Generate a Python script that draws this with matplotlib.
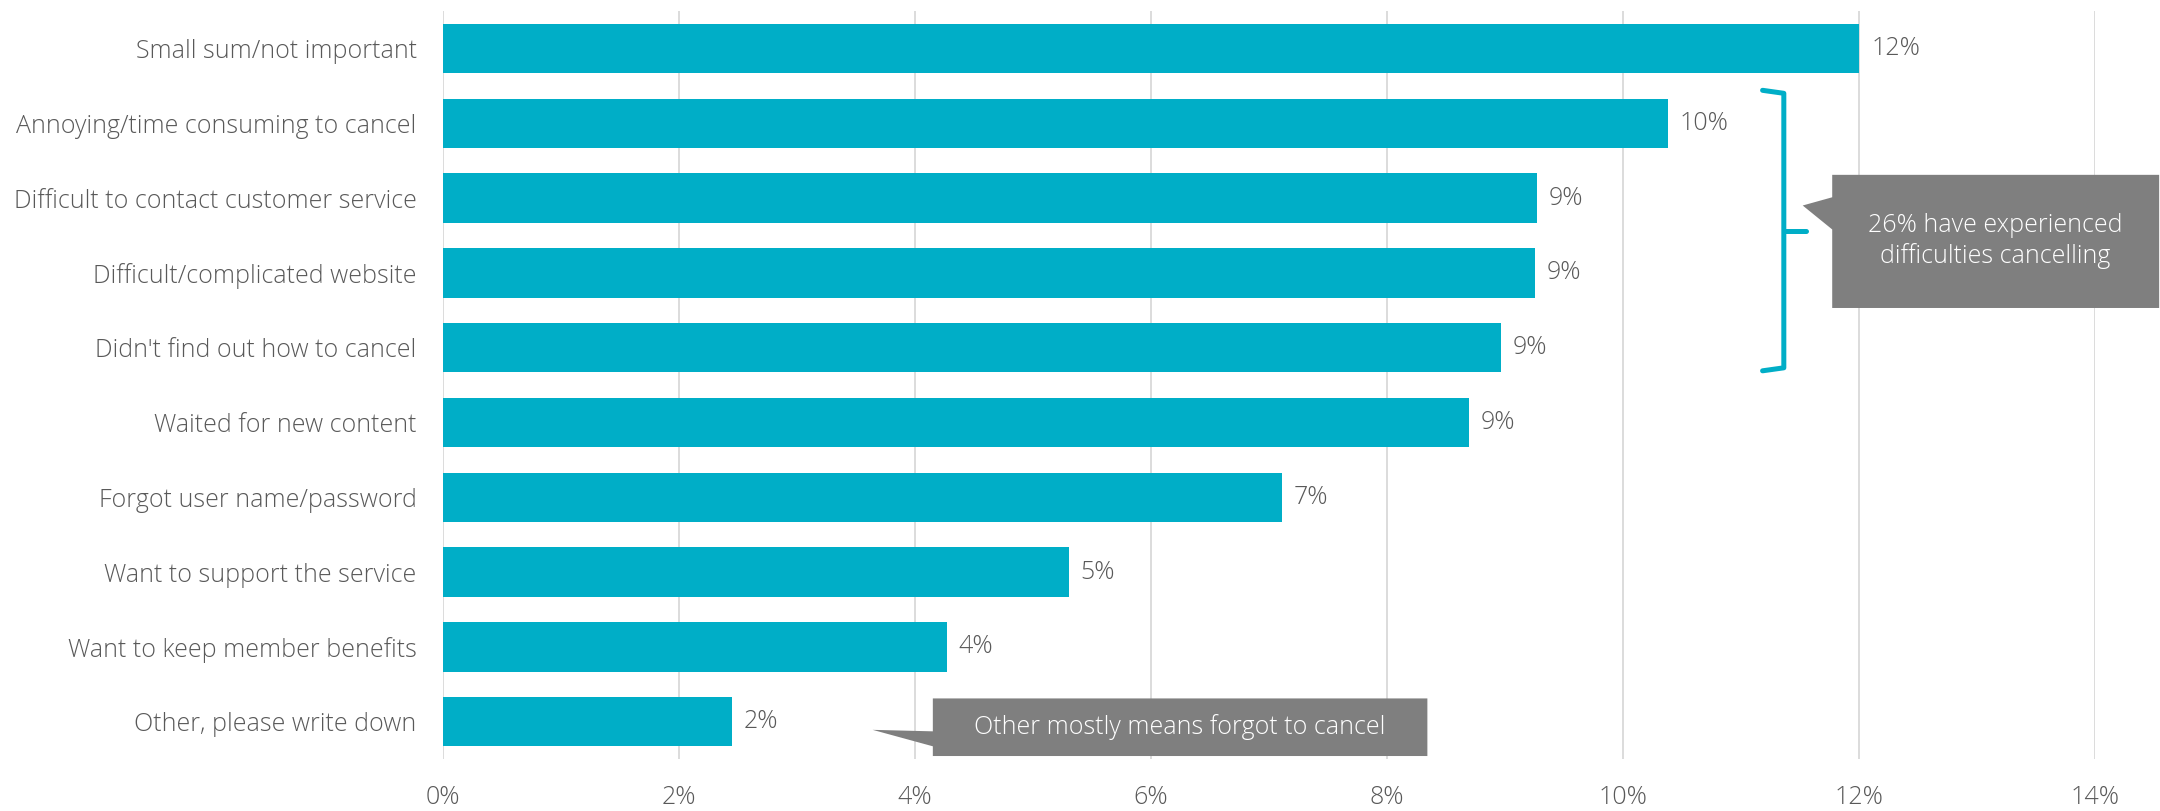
import matplotlib
matplotlib.use("Agg")
import matplotlib.pyplot as plt
from matplotlib.patches import Polygon
from matplotlib import font_manager

# Reasons given for keeping a subscription (share of respondents, %)
categories = [
    "Small sum/not important",
    "Annoying/time consuming to cancel",
    "Difficult to contact customer service",
    "Difficult/complicated website",
    "Didn't find out how to cancel",
    "Waited for new content",
    "Forgot user name/password",
    "Want to support the service",
    "Want to keep member benefits",
    "Other, please write down",
]
values = [12.0, 10.38, 9.27, 9.25, 8.96, 8.69, 7.11, 5.30, 4.27, 2.45]
x_ticks = [0, 2, 4, 6, 8, 10, 12, 14]

bar_color = "#00aec7"
text_color = "#595959"
box_color = "#7f7f7f"
fs = 18

names = {f.name for f in font_manager.fontManager.ttflist}
family = "Open Sans" if "Open Sans" in names else "DejaVu Sans"
plt.rcParams["font.family"] = family
plt.rcParams["font.weight"] = "light"

fig = plt.figure(figsize=(21.6, 8.11), dpi=100)
ax = fig.add_axes([0.2051, 0.0641, 0.765, 0.9223])

y = list(range(len(categories)))
ax.barh(y, values, height=0.66, color=bar_color, zorder=3)

for yi, v in zip(y, values):
    ax.text(v + 0.1, yi, f"{v:.0f}%", va="center", ha="left",
            fontsize=fs, color=text_color)

ax.set_xlim(0, 14)
ax.set_ylim(9.5, -0.5)
ax.set_xticks(x_ticks)
ax.set_xticklabels([f"{t}%" for t in x_ticks])
ax.set_yticks(y)
ax.set_yticklabels(categories)
ax.tick_params(axis="both", length=0, labelsize=fs, labelcolor=text_color)
ax.tick_params(axis="y", pad=19)
ax.tick_params(axis="x", pad=19)
ax.grid(axis="x", color="#d9d9d9", linewidth=1.3, zorder=0)
for s in ax.spines.values():
    s.set_visible(False)

# brace grouping the cancellation difficulties
brace_kw = dict(color=bar_color, linewidth=3.6, solid_capstyle="round",
                solid_joinstyle="round", clip_on=False, zorder=4)
ax.plot([11.18, 11.36, 11.36, 11.18], [0.56, 0.60, 4.27, 4.31], **brace_kw)
ax.plot([11.36, 11.55], [2.44, 2.44], **brace_kw)

# callout boxes with pointers
big_box = Polygon([(11.52, 2.10), (11.77, 1.99), (11.77, 1.69), (14.54, 1.69),
                   (14.54, 3.47), (11.77, 3.47), (11.77, 2.42)],
                  closed=True, facecolor=box_color, edgecolor="none",
                  clip_on=False, zorder=5)
ax.add_patch(big_box)
ax.text(13.155, 2.58, "26% have experienced\ndifficulties cancelling",
        ha="center", va="center", fontsize=fs, color="white",
        linespacing=1.25, zorder=6, clip_on=False)

small_box = Polygon([(3.64, 9.11), (4.15, 9.13), (4.15, 8.69), (8.34, 8.69),
                     (8.34, 9.46), (4.15, 9.46), (4.15, 9.33)],
                    closed=True, facecolor=box_color, edgecolor="none",
                    clip_on=False, zorder=5)
ax.add_patch(small_box)
ax.text(6.245, 9.07, "Other mostly means forgot to cancel",
        ha="center", va="center", fontsize=fs, color="white", zorder=6)

fig.savefig("out.png", dpi=100)
